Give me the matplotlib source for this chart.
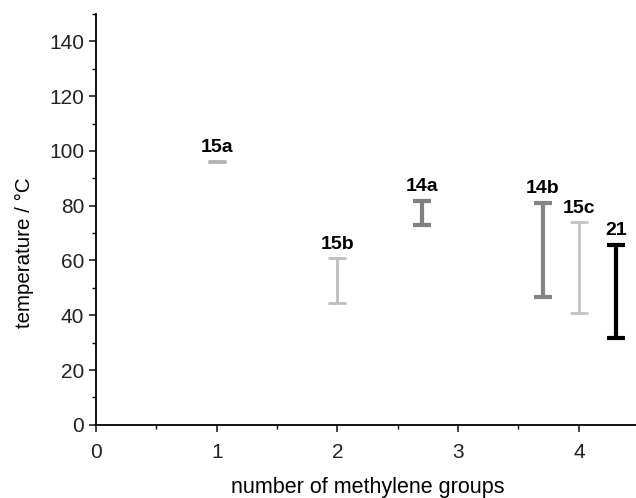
import matplotlib.pyplot as plt
from matplotlib.ticker import MultipleLocator

plt.rcParams['font.family'] = ['Liberation Sans', 'DejaVu Sans']

# transition ranges per compound
labels = ['15a', '15b', '14a', '14b', '15c', '21']
groups = [1.0, 2.0, 2.7, 3.7, 4.0, 4.31]
t_low = [95.8, 44.6, 72.9, 46.7, 40.8, 31.8]
t_high = [96.2, 60.8, 81.8, 81.0, 73.9, 65.7]
colors = ['#b4b4b4', '#bdbdbd', '#7f7f7f', '#858585', '#c4c4c4', '#000000']
widths = [2.0, 2.0, 3.0, 3.0, 2.0, 3.0]

fig = plt.figure(figsize=(6.36, 4.98), dpi=100)
ax = fig.add_axes([0.151, 0.147, 0.854, 0.825])

for lab, x, lo, hi, c, w in zip(labels, groups, t_low, t_high, colors, widths):
    mid = (lo + hi) / 2
    ax.errorbar(x, mid, yerr=[[mid - lo], [hi - mid]], fmt='none', ecolor=c,
                elinewidth=w, capsize=6.5, capthick=w)
    ax.annotate(lab, (x, hi), xytext=(0, 4), textcoords='offset points',
                ha='center', va='bottom', fontsize=14, fontweight='bold')

ax.set_xlim(0, 4.5)
ax.set_ylim(0, 150)
ax.set_xticks([0, 1, 2, 3, 4])
ax.set_yticks(range(0, 141, 20))
ax.xaxis.set_minor_locator(MultipleLocator(0.5))
ax.yaxis.set_minor_locator(MultipleLocator(10))
ax.tick_params(which='major', length=5, width=1.2, labelsize=15, colors='#222222')
ax.tick_params(axis='x', which='major', pad=8)
ax.tick_params(which='minor', length=3, width=1.0)

ax.spines['top'].set_visible(False)
ax.spines['right'].set_visible(False)
ax.spines['left'].set_linewidth(1.3)
ax.spines['bottom'].set_linewidth(1.3)

ax.set_xlabel('number of methylene groups', fontsize=15.5, labelpad=11)
ax.set_ylabel('temperature / °C', fontsize=14.8, labelpad=8)
ax.yaxis.set_label_coords(-0.115, 0.42)

plt.savefig('out.png', dpi=100)
